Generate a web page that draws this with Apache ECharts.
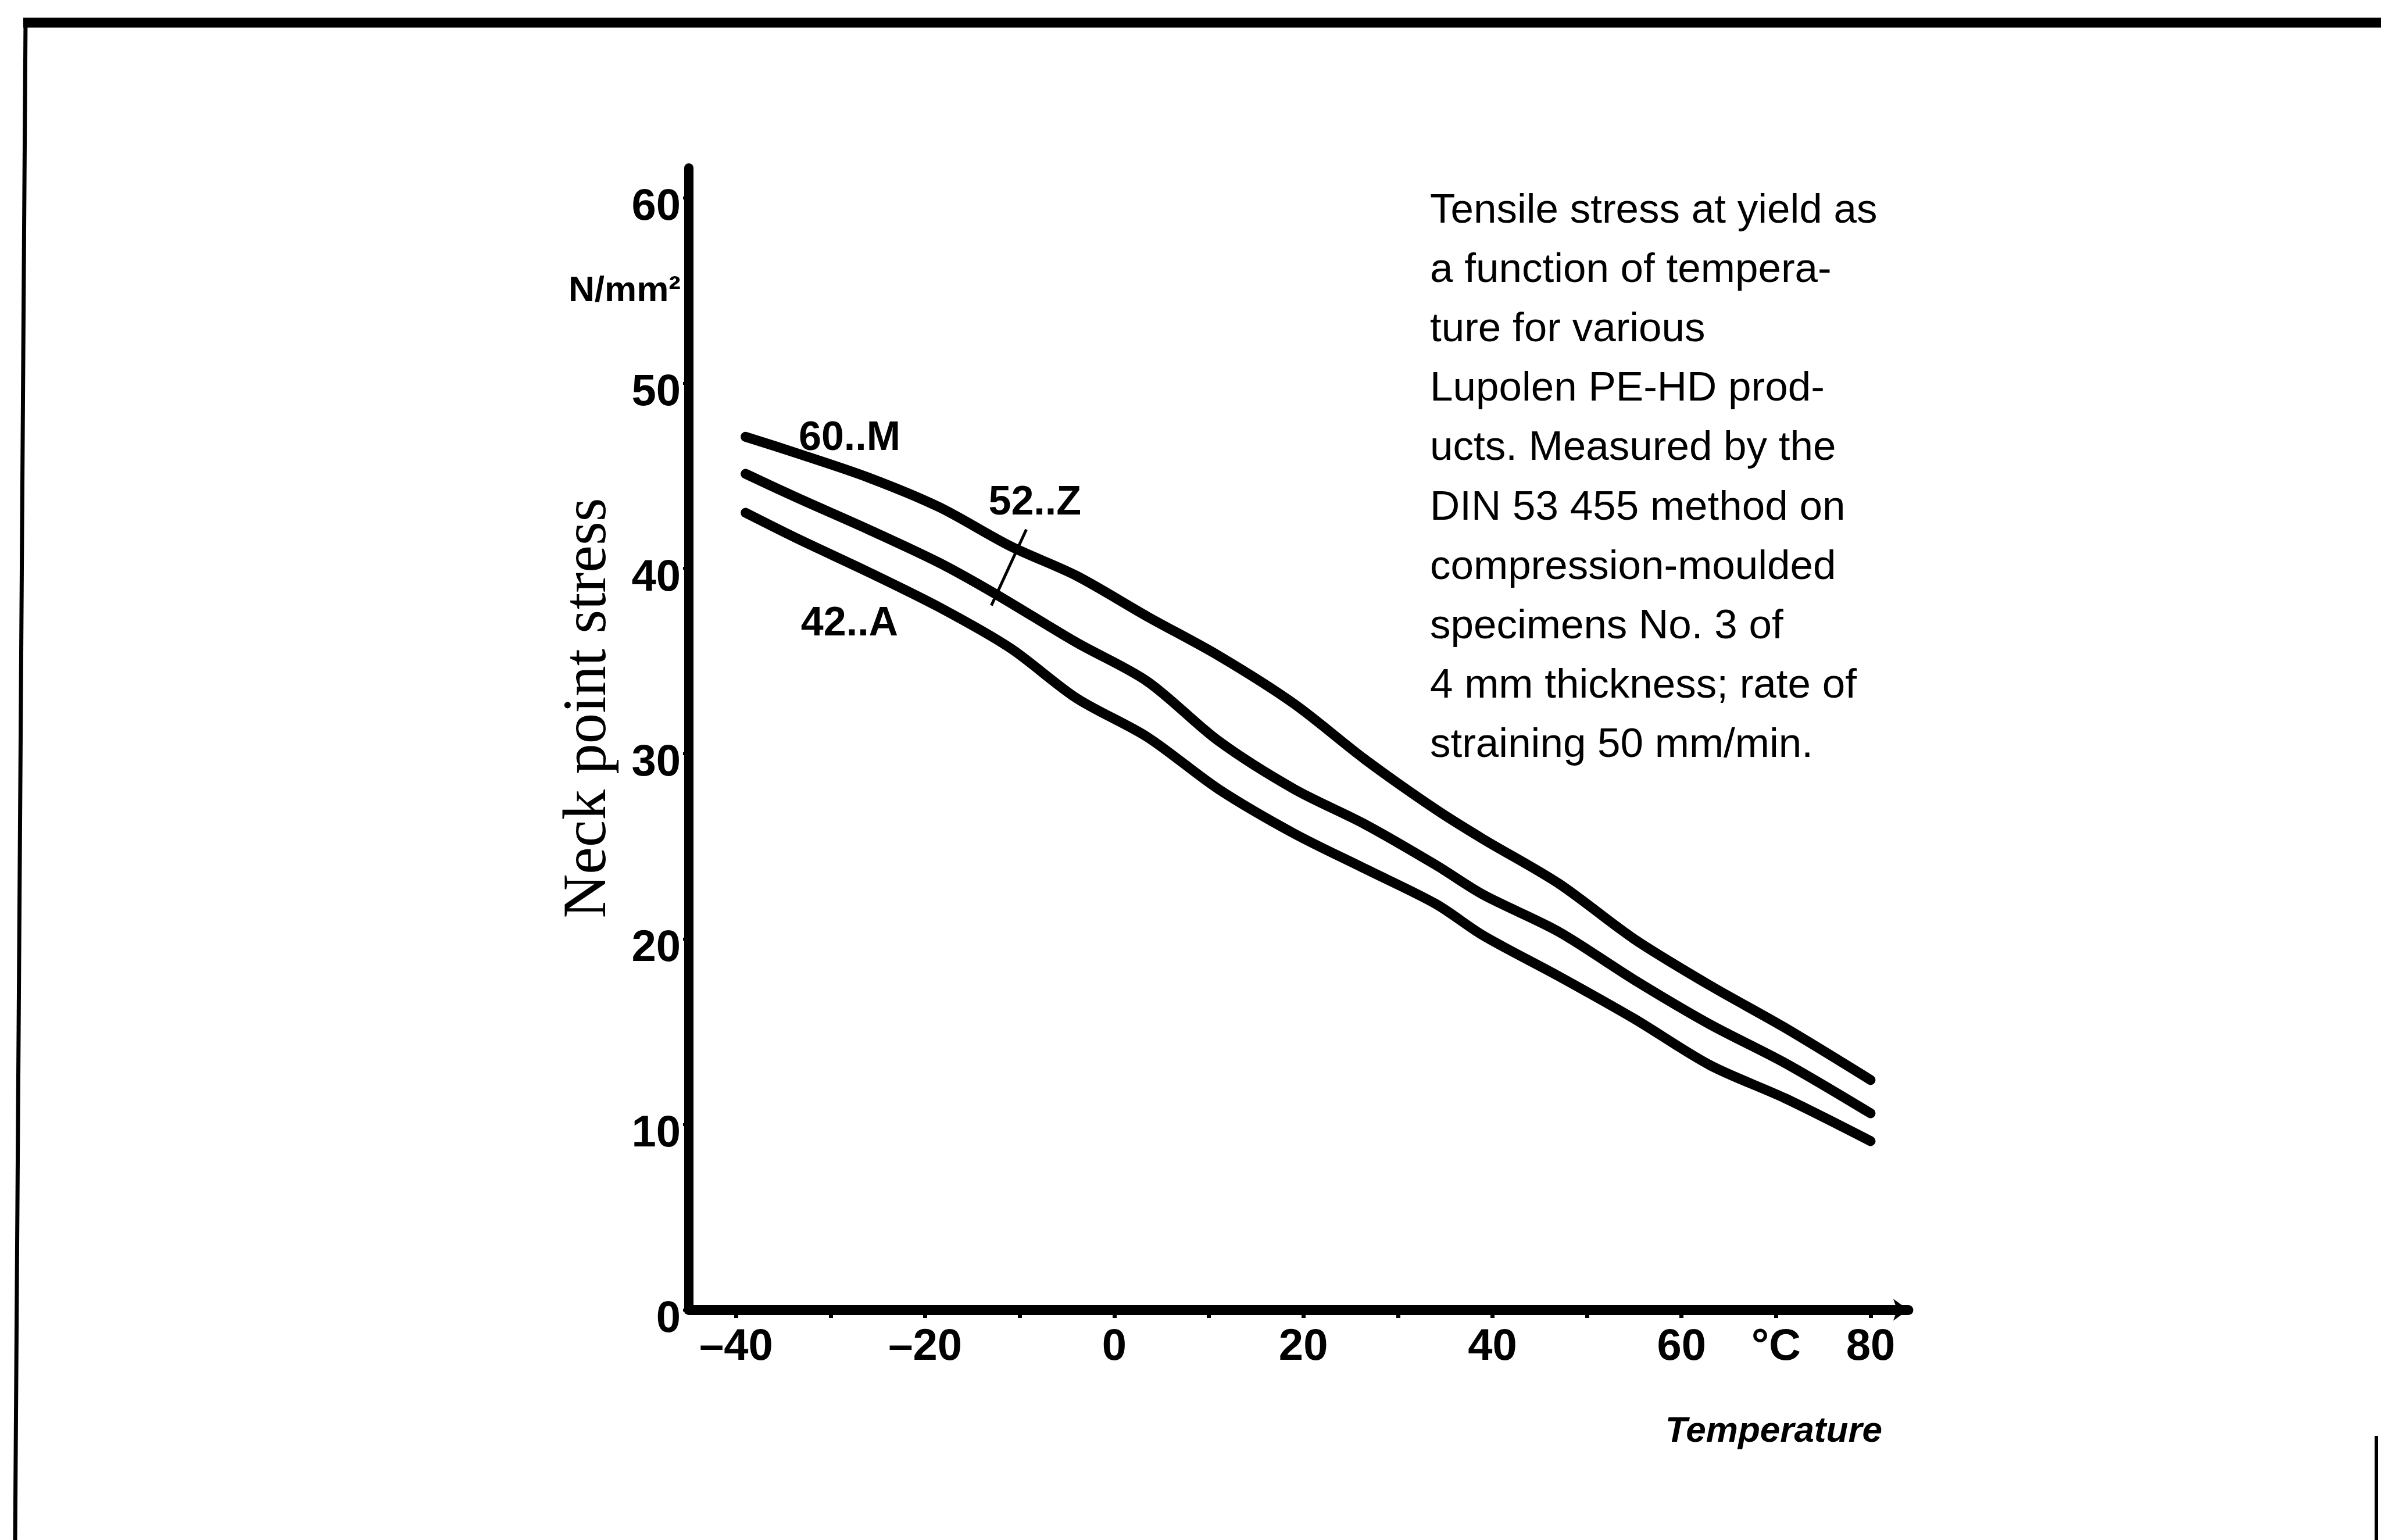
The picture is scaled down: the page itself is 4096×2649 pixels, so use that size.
<!DOCTYPE html>
<html><head><meta charset="utf-8">
<script src="https://cdn.jsdelivr.net/npm/echarts@6/dist/echarts.min.js"></script>
<style>html,body{margin:0;padding:0;background:#fff}#c{width:4096px;height:2649px}</style>
</head><body><div id="c"></div>
<script>
// ---- data ----
const temps60M  = [-39, -33.5, -26, -18.5, -11, -4, 3.5, 11, 19, 26.5, 34, 39, 47, 55, 63, 71, 80];
const stress60M = [47.1, 46.2, 44.9, 43.3, 41.2, 39.6, 37.4, 35.3, 32.7, 29.7, 27.0, 25.4, 23.0, 20.0, 17.5, 15.2, 12.4];
const temps52Z  = [-39, -33.5, -26, -18.5, -12.5, -4, 3.5, 11, 19, 26.5, 34, 39, 47, 55, 63, 71, 80];
const stress52Z = [45.1, 43.8, 42.1, 40.3, 38.6, 36.0, 33.9, 30.7, 28.1, 26.2, 24.0, 22.4, 20.4, 17.8, 15.4, 13.3, 10.6];
const temps42A  = [-39, -33.5, -26, -18.5, -11, -4, 3.5, 11, 19, 26.5, 34, 39, 47, 55, 63, 71, 80];
const stress42A = [43.0, 41.6, 39.8, 37.9, 35.7, 33.0, 30.9, 28.1, 25.7, 23.8, 21.9, 20.2, 18.0, 15.7, 13.2, 11.4, 9.1];

const seriesNames = ['60..M', '52..Z', '42..A'];

const xTickValues  = [-40, -30, -20, -10, 0, 10, 20, 30, 40, 50, 60, 70, 80];
const xLabelValues = [-40, -20, 0, 20, 40, 60, 70, 80];
const xLabelTexts  = ['\u201340', '\u201320', '0', '20', '40', '60', '\u00B0C', '80'];
const yTickValues  = [0, 10, 20, 30, 40, 50, 60];
const yLabelValues = [0, 10, 20, 30, 40, 50, 55.5, 60];
const yLabelTexts  = ['0', '10', '20', '30', '40', '50', '{u|N/mm\u00B2}', '60'];

const yTitle = 'Neck point stress';
const xTitle = 'Temperature';
const noteLines = [
  'Tensile stress at yield as',
  'a function of tempera-',
  'ture for various',
  'Lupolen PE-HD prod-',
  'ucts. Measured by the',
  'DIN 53 455 method on',
  'compression-moulded',
  'specimens No. 3 of',
  '4 mm thickness; rate of',
  'straining 50 mm/min.'
];

// ---- helpers ----
const zip = (xs, ys) => xs.map((x, i) => [x, ys[i]]);
const SANS = '"Liberation Sans", Arial, sans-serif';
const tickFont = { fontFamily: SANS, fontWeight: 'bold', fontSize: 76, color: '#000' };
const annFont = { fontFamily: SANS, fontWeight: 'bold', fontSize: 70, color: '#000' };

function annot(text, coord) {
  return {
    symbol: 'circle', symbolSize: 1,
    itemStyle: { color: 'rgba(0,0,0,0)' },
    label: { show: true, position: 'inside', formatter: text, ...annFont },
    data: [{ coord: coord }]
  };
}

const lineStyle = { color: '#000', width: 17, cap: 'round', join: 'round' };

const chart = echarts.init(document.getElementById('c'), null, { renderer: 'canvas' });
chart.setOption({
  backgroundColor: '#fff',
  animation: false,
  grid: { left: 1185, right: 813, top: 289, bottom: 396 },
  xAxis: {
    type: 'value', min: -45, max: 84,
    axisLine: { show: true, onZero: false, symbol: ['none', 'arrow'], symbolSize: [28, 26],
      lineStyle: { color: '#000', width: 17 } },
    axisTick: { show: true, inside: false, length: 14, customValues: xTickValues,
      lineStyle: { color: '#000', width: 7 } },
    axisLabel: { show: true, margin: 27, customValues: xLabelValues,
      formatter: v => xLabelTexts[xLabelValues.indexOf(v)] ?? '', ...tickFont },
    splitLine: { show: false }
  },
  yAxis: {
    type: 'value', min: 0, max: 61.6,
    axisLine: { show: true, onZero: false, lineStyle: { color: '#000', width: 16 } },
    axisTick: { show: true, inside: false, length: 10, customValues: yTickValues,
      lineStyle: { color: '#000', width: 5 } },
    axisLabel: { show: true, margin: 14, padding: [34, 0, 0, 0], customValues: yLabelValues,
      formatter: v => yLabelTexts[yLabelValues.indexOf(v)] ?? '', ...tickFont,
      rich: { u: { fontFamily: SANS, fontWeight: 'bold', fontSize: 62, color: '#000' } } },
    splitLine: { show: false }
  },
  series: [
    { name: seriesNames[0], type: 'line', data: zip(temps60M, stress60M), smooth: 0.3,
      symbol: 'none', lineStyle: lineStyle, z: 3,
      markPoint: annot(seriesNames[0], [-28.0, 47.0]) },
    { name: seriesNames[1], type: 'line', data: zip(temps52Z, stress52Z), smooth: 0.3,
      symbol: 'none', lineStyle: lineStyle, z: 3,
      markPoint: annot(seriesNames[1], [-8.4, 43.5]),
      markLine: { silent: true, symbol: ['none', 'none'], label: { show: false },
        lineStyle: { color: '#000', width: 5, type: 'solid' },
        data: [[{ coord: [-9.3, 42.1] }, { coord: [-13.0, 38.0] }]] } },
    { name: seriesNames[2], type: 'line', data: zip(temps42A, stress42A), smooth: 0.3,
      symbol: 'none', lineStyle: lineStyle, z: 3,
      markPoint: annot(seriesNames[2], [-28.0, 37.0]) }
  ],
  graphic: [
    // scanned page frame
    { type: 'line', shape: { x1: 40, y1: 39, x2: 4096, y2: 39 }, style: { stroke: '#000', lineWidth: 17 } },
    { type: 'line', shape: { x1: 44, y1: 31, x2: 26, y2: 2649 }, style: { stroke: '#000', lineWidth: 7 } },
    { type: 'line', shape: { x1: 4088, y1: 2470, x2: 4088, y2: 2649 }, style: { stroke: '#000', lineWidth: 6 } },
    // y-axis title
    { type: 'text', x: 1013, y: 1218, rotation: Math.PI / 2,
      style: { text: yTitle, fontFamily: '"Liberation Serif", "DejaVu Serif", serif', fontSize: 105,
        fill: '#000', align: 'center', verticalAlign: 'middle' } },
    // x-axis title
    { type: 'text', x: 3238, y: 2463,
      style: { text: xTitle, fontFamily: SANS, fontStyle: 'italic', fontWeight: 'bold', fontSize: 62,
        fill: '#000', align: 'right', verticalAlign: 'middle' } },
    // description
    { type: 'text', x: 2460, y: 312,
      style: { text: noteLines.join('\n'), fontFamily: SANS, fontSize: 71,
        lineHeight: 102.2, fill: '#000', align: 'left', verticalAlign: 'top' } }
  ]
});
</script>
</body></html>
